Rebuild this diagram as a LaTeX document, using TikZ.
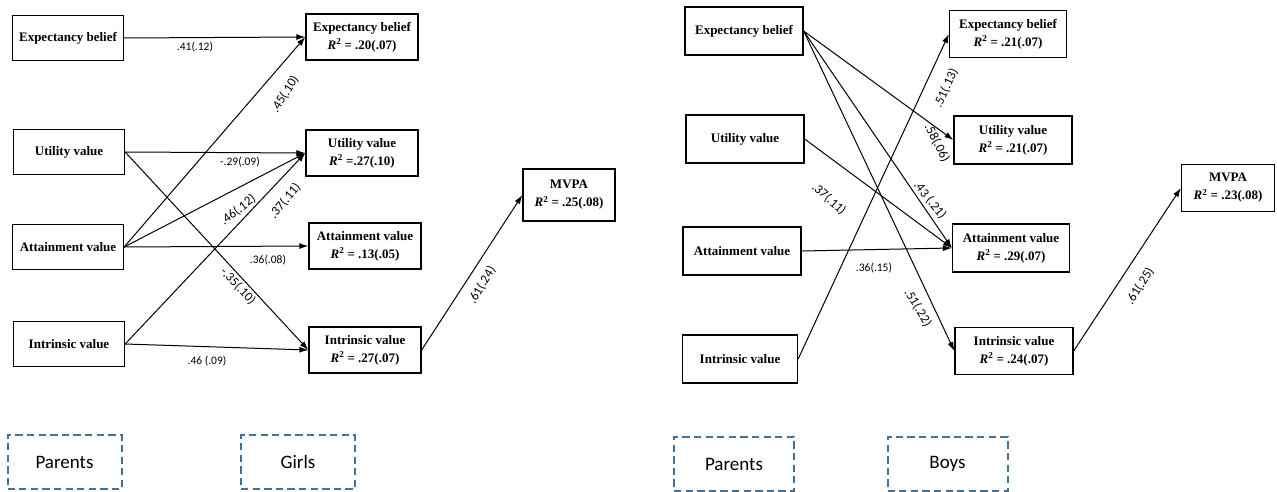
\documentclass[tikz,border=0pt]{standalone}
\usepackage{fontspec}
\setmainfont{Liberation Serif}
\newfontfamily\coefFont{Carlito}
\usepackage{tikz}
\usetikzlibrary{arrows.meta}
\definecolor{dashBlue}{RGB}{65,113,156}
\newcommand{\rsq}[1]{\textit{R}\textsuperscript{2}#1}

\begin{document}
\begin{tikzpicture}[x=1pt, y=-1pt,
  var/.style={draw, line width=1.3pt, minimum width=112pt, minimum height=46pt, inner sep=0pt, align=center, font=\fontsize{13}{18}\selectfont\bfseries},
  arr/.style={line width=1pt, -{Latex[length=9pt,width=6pt]}},
  coef/.style={inner sep=0pt, font=\fontsize{11.5}{13}\selectfont\coefFont},
  scoef/.style={inner sep=0pt, font=\fontsize{13}{14}\selectfont\coefFont},
  group/.style={draw=dashBlue, line width=2pt, dash pattern=on 7.3pt off 4.3pt, minimum width=114pt, minimum height=54pt, font=\fontsize{19}{21}\selectfont\coefFont}]

\useasboundingbox (0,0) rectangle (1277,492);

% girls: parents' beliefs
\node[var, minimum width=111pt, minimum height=45pt] (pExpG) at (68,38) {Expectancy belief};
\node[var, minimum width=111pt, minimum height=45pt] (pUtilG) at (69,152) {Utility value};
\node[var, minimum width=111pt, minimum height=45pt] (pAttG) at (68,247) {Attainment value};
\node[var, minimum width=111pt, minimum height=45pt] (pIntG) at (69,344) {Intrinsic value};
% girls: own beliefs
\node[var] (gExp) at (362,37) {Expectancy belief\\\rsq{ = .20(.07)}};
\node[var] (gUtil) at (362,153) {Utility value\\\rsq{ =.27(.10)}};
\node[var] (gAtt) at (365,246) {Attainment value\\\rsq{ = .13(.05)}};
\node[var] (gInt) at (365,350) {Intrinsic value\\\rsq{ = .27(.07)}};
\node[var, minimum width=92pt, minimum height=52pt] (gMvpa) at (569,195) {MVPA\\\rsq{ = .25(.08)}};

\draw[arr] (pExpG.east) -- (gExp.west);
\draw[arr] (pUtilG.east) -- (gUtil.west);
\draw[arr] (pUtilG.east) -- (gInt.west);
\draw[arr] (pAttG.east) -- (gExp.west);
\draw[arr] (pAttG.east) -- (gUtil.west);
\draw[arr] (pAttG.east) -- (gAtt.west);
\draw[arr] (pIntG.east) -- (gUtil.west);
\draw[arr] (pIntG.east) -- (gInt.west);
\draw[arr] (gInt.east) -- (gMvpa.west);

\node[coef] (cG1) at (195,47) {.41(.12)};
\node[coef] (cG2) at (240,162) {-.29(.09)};
\node[scoef, rotate=-47] (cG3) at (238,286) {-.35(.10)};
\node[scoef, rotate=58] (cG4) at (285,94) {.45(.10)};
\node[scoef, rotate=38] (cG5) at (238,210) {.46(.12)};
\node[coef] (cG6) at (268,260) {.36(.08)};
\node[scoef, rotate=50] (cG7) at (285,201) {.37(.11)};
\node[coef] (cG8) at (207,361) {.46 (.09)};
\node[scoef, rotate=59] (cG9) at (482,285) {.61(.24)};

% boys: parents' beliefs
\node[var, minimum width=118pt, minimum height=48pt] (pExpB) at (744,31) {Expectancy belief};
\node[var, minimum width=118pt, minimum height=48pt] (pUtilB) at (745,139) {Utility value};
\node[var, minimum width=118pt, minimum height=48pt] (pAttB) at (742,251) {Attainment value};
\node[var, minimum width=115pt, minimum height=48pt] (pIntB) at (740,359) {Intrinsic value};
% boys: own beliefs
\node[var, minimum width=117pt, minimum height=47pt] (bExp) at (1008,34) {Expectancy belief\\\rsq{ = .21(.07)}};
\node[var, minimum width=118pt, minimum height=48pt] (bUtil) at (1013,140) {Utility value\\\rsq{ = .21(.07)}};
\node[var, minimum width=117pt, minimum height=48pt] (bAtt) at (1011,248) {Attainment value\\\rsq{ = .29(.07)}};
\node[var, minimum width=118pt, minimum height=47pt] (bInt) at (1014,351) {Intrinsic value\\\rsq{ = .24(.07)}};
\node[var, minimum width=93pt, minimum height=47pt] (bMvpa) at (1228,188) {MVPA\\\rsq{ = .23(.08)}};

\draw[arr] (pExpB.east) -- (bUtil.west);
\draw[arr] (pExpB.east) -- (bAtt.west);
\draw[arr] (pExpB.east) -- (bInt.west);
\draw[arr] (pUtilB.east) -- (bAtt.west);
\draw[arr] (pAttB.east) -- (bAtt.west);
\draw[arr] (pIntB.east) -- (bExp.west);
\draw[arr] (bInt.east) -- (bMvpa.west);

\node[scoef, rotate=-63] (cB1) at (937,143) {.58(.06)};
\node[scoef, rotate=-51] (cB2) at (930,200) {.43 (.21)};
\node[scoef, rotate=-59] (cB3) at (918,308) {.51(.22)};
\node[scoef, rotate=-42] (cB4) at (829,199) {.37(.11)};
\node[coef] (cB5) at (874,268) {.36(.15)};
\node[scoef, rotate=65] (cB6) at (946,88) {.51(.13)};
\node[scoef, rotate=58] (cB7) at (1140,286) {.61(.25)};

% group tags
\node[group] (parentsG) at (64.5,462) {Parents};
\node[group] (girls) at (298,462) {Girls};
\node[group, minimum width=120pt] (parentsB) at (734,464) {Parents};
\node[group, minimum width=120pt] (boys) at (947.5,464) {Boys};
\end{tikzpicture}
\end{document}
